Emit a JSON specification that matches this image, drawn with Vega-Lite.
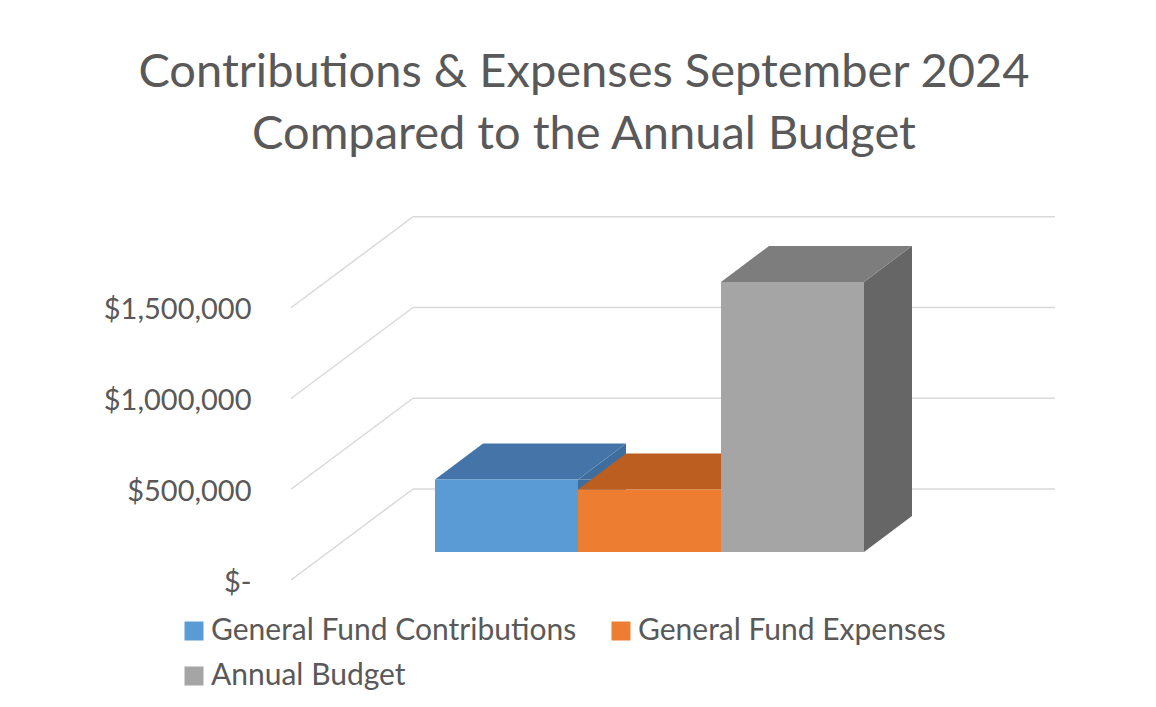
{
  "$schema": "https://vega.github.io/schema/vega-lite/v6.json",
  "width": 642,
  "height": 363,
  "autosize": {"type": "none"},
  "padding": {"left": 413, "top": 189, "right": 101, "bottom": 155},
  "background": "white",
  "config": {"view": {"stroke": null}, "font": "Lato"},
  "title": {
    "text": ["Contributions & Expenses September 2024", "Compared to the Annual Budget"],
    "font": "Lato",
    "fontSize": 47,
    "fontWeight": "normal",
    "color": "#595959",
    "anchor": "middle",
    "frame": "group",
    "dx": -150,
    "offset": 30,
    "lineHeight": 62
  },
  "datasets": {
    "bars": [
      {"category": "General Fund Contributions", "value": 400000},
      {"category": "General Fund Expenses", "value": 345000},
      {"category": "Annual Budget", "value": 1488000}
    ],
    "ticks": [
      {"v": 0},
      {"v": 500000},
      {"v": 1000000},
      {"v": 1500000}
    ]
  },
  "resolve": {"scale": {"color": "independent"}},
  "layer": [
    {
      "data": {"name": "ticks"},
      "mark": {"type": "rule", "color": "#D9D9D9", "strokeWidth": 1.5, "yOffset": -63},
      "encoding": {
        "y": {
          "field": "v",
          "type": "quantitative",
          "scale": {"domain": [0, 2000000], "nice": false},
          "axis": {
            "values": [0, 500000, 1000000, 1500000],
            "labelExpr": "datum.value == 0 ? '$-' : '$' + format(datum.value, ',')",
            "domain": false,
            "ticks": false,
            "tickSize": 0,
            "grid": false,
            "title": null,
            "labelFont": "Lato",
            "labelFontSize": 29,
            "labelColor": "#595959",
            "labelOffset": 30,
            "labelPadding": 0,
            "offset": 162,
            "labelAlign": "right",
            "labelBaseline": "middle"
          }
        }
      }
    },
    {
      "data": {"name": "ticks"},
      "mark": {"type": "rule", "color": "#D9D9D9", "strokeWidth": 1.5, "xOffset": -122, "yOffset": 28, "y2Offset": -63},
      "encoding": {
        "x": {"value": 0},
        "x2": {"value": 0},
        "y": {"field": "v", "type": "quantitative", "scale": {"domain": [0, 2000000], "nice": false}},
        "y2": {"field": "v"}
      }
    },
    {
      "data": {"name": "bars"},
      "mark": {"type": "bar", "width": 48, "xOffset": 95.5, "y2Offset": -36},
      "encoding": {
        "x": {"field": "category", "type": "nominal", "sort": null, "axis": null,
              "scale": {"type": "band", "domain": ["General Fund Contributions", "General Fund Expenses", "Annual Budget"], "paddingInner": 0, "paddingOuter": 0.7448, "align": 0.1033}},
        "y": {"field": "value", "type": "quantitative", "scale": {"domain": [0, 2000000], "nice": false}},
        "y2": {"datum": 0},
        "color": {"field": "category", "type": "nominal", "legend": null,
                  "scale": {"domain": ["General Fund Contributions", "General Fund Expenses", "Annual Budget"], "range": ["#3F6E9E", "#AE5A21", "#666666"]}}
      }
    },
    {
      "data": {"name": "bars"},
      "mark": {"type": "point", "shape": "M71.5,0L119.5,-36L119.5,0Z", "size": 4, "filled": true, "opacity": 1, "strokeWidth": 0},
      "encoding": {
        "x": {"field": "category", "type": "nominal", "sort": null, "axis": null,
              "scale": {"type": "band", "domain": ["General Fund Contributions", "General Fund Expenses", "Annual Budget"], "paddingInner": 0, "paddingOuter": 0.7448, "align": 0.1033}},
        "y": {"field": "value", "type": "quantitative", "scale": {"domain": [0, 2000000], "nice": false}},
        "color": {"field": "category", "type": "nominal", "legend": null,
                  "scale": {"domain": ["General Fund Contributions", "General Fund Expenses", "Annual Budget"], "range": ["#3F6E9E", "#AE5A21", "#666666"]}}
      }
    },
    {
      "data": {"name": "bars"},
      "mark": {"type": "point", "shape": "M71.5,-36L71.5,0L119.5,-36Z", "size": 4, "filled": true, "opacity": 1, "strokeWidth": 0},
      "encoding": {
        "x": {"field": "category", "type": "nominal", "sort": null, "axis": null,
              "scale": {"type": "band", "domain": ["General Fund Contributions", "General Fund Expenses", "Annual Budget"], "paddingInner": 0, "paddingOuter": 0.7448, "align": 0.1033}},
        "y": {"datum": 0, "type": "quantitative", "scale": {"domain": [0, 2000000], "nice": false}},
        "color": {"field": "category", "type": "nominal", "legend": null,
                  "scale": {"domain": ["General Fund Contributions", "General Fund Expenses", "Annual Budget"], "range": ["#3F6E9E", "#AE5A21", "#666666"]}}
      }
    },
    {
      "data": {"name": "bars"},
      "mark": {"type": "point", "shape": "M-71.5,0L71.5,0L119.5,-36L-23.5,-36Z", "size": 4, "filled": true, "opacity": 1, "strokeWidth": 0},
      "encoding": {
        "x": {"field": "category", "type": "nominal", "sort": null, "axis": null,
              "scale": {"type": "band", "domain": ["General Fund Contributions", "General Fund Expenses", "Annual Budget"], "paddingInner": 0, "paddingOuter": 0.7448, "align": 0.1033}},
        "y": {"field": "value", "type": "quantitative", "scale": {"domain": [0, 2000000], "nice": false}},
        "color": {"field": "category", "type": "nominal", "legend": null,
                  "scale": {"domain": ["General Fund Contributions", "General Fund Expenses", "Annual Budget"], "range": ["#4575A8", "#BC5E1F", "#7D7D7D"]}}
      }
    },
    {
      "data": {"name": "bars"},
      "mark": {"type": "bar"},
      "encoding": {
        "x": {"field": "category", "type": "nominal", "sort": null, "axis": null,
              "scale": {"type": "band", "domain": ["General Fund Contributions", "General Fund Expenses", "Annual Budget"], "paddingInner": 0, "paddingOuter": 0.7448, "align": 0.1033}},
        "y": {"field": "value", "type": "quantitative", "scale": {"domain": [0, 2000000], "nice": false}},
        "color": {
          "field": "category",
          "type": "nominal",
          "scale": {"domain": ["General Fund Contributions", "General Fund Expenses", "Annual Budget"], "range": ["#5B9BD5", "#ED7D31", "#A5A5A5"]},
          "legend": {
            "title": null,
            "orient": "none",
            "legendX": -234,
            "legendY": 427,
            "columns": 2,
            "direction": "horizontal",
            "symbolType": "square",
            "symbolSize": 361,
            "symbolStrokeWidth": 0,
            "symbolOpacity": 1,
            "labelFont": "Lato",
            "labelFontSize": 30,
            "labelColor": "#595959",
            "labelOffset": 2,
            "rowPadding": 15,
            "columnPadding": 29,
            "labelLimit": 0
          }
        }
      }
    }
  ]
}
